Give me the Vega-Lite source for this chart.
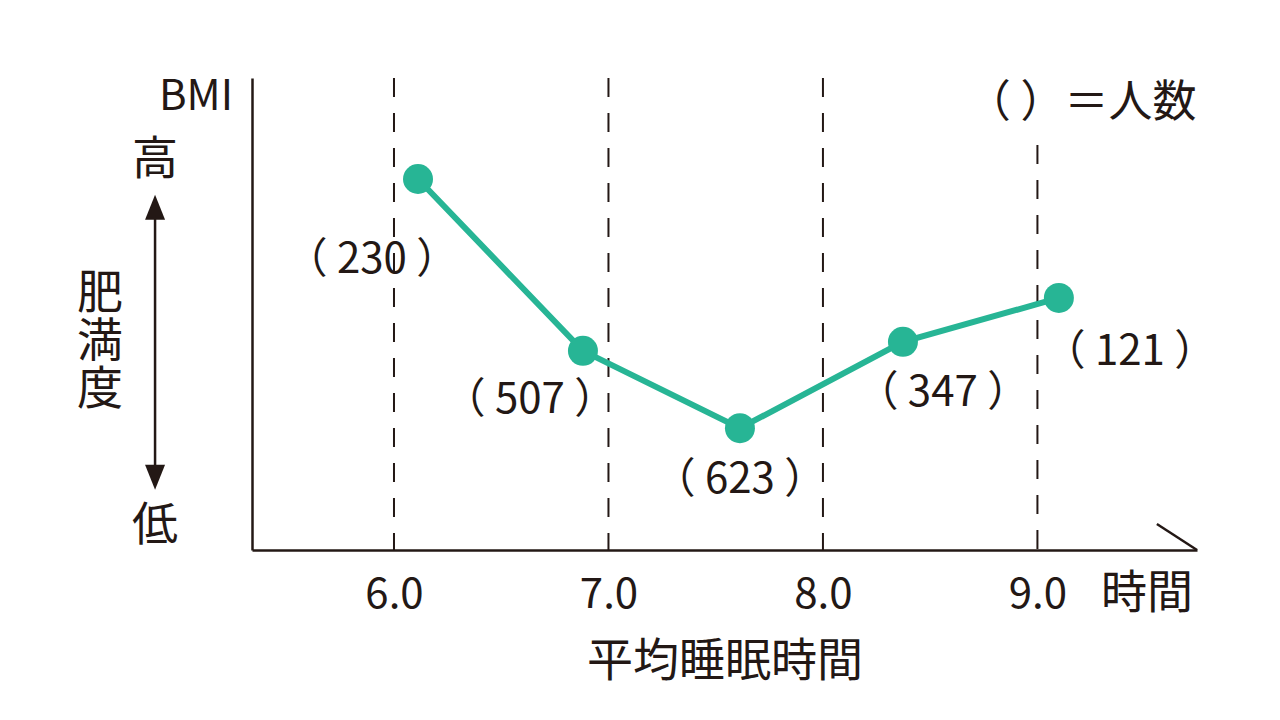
{
  "$schema": "https://vega.github.io/schema/vega-lite/v6.json",
  "width": 945,
  "height": 472,
  "autosize": {"type": "none"},
  "padding": {"left": 252, "top": 78, "right": 83, "bottom": 170},
  "background": "white",
  "config": {
    "font": "Noto Sans CJK JP",
    "view": {"stroke": null},
    "text": {"font": "Noto Sans CJK JP", "color": "#231815"}
  },
  "datasets": {
    "points": [
      {"hours": 6.112, "level": 78.6, "count": 230},
      {"hours": 6.881, "level": 42.2, "count": 507},
      {"hours": 7.613, "level": 25.8, "count": 623},
      {"hours": 8.373, "level": 44.1, "count": 347},
      {"hours": 9.1, "level": 53.4, "count": 121}
    ],
    "labels": [
      {"hours": 5.897, "level": 61.4, "text": "（ 230 ）"},
      {"hours": 6.634, "level": 31.8, "text": "（ 507 ）"},
      {"hours": 7.613, "level": 14.8, "text": "（ 623 ）"},
      {"hours": 8.559, "level": 33.3, "text": "（ 347 ）"},
      {"hours": 9.431, "level": 41.9, "text": "（ 121 ）"}
    ],
    "guides": [
      {"hours": 6, "top": 100},
      {"hours": 7, "top": 100},
      {"hours": 8, "top": 100},
      {"hours": 9, "top": 85.8}
    ],
    "notes": [
      {"hours": 4.886, "level": 82.6, "text": "高"},
      {"hours": 4.886, "level": 5.1, "text": "低"},
      {"hours": 9.511, "level": -9.3, "text": "時間"}
    ],
    "arrowheads": [
      {"hours": 4.886, "level": 72.6, "dir": "up"},
      {"hours": 4.886, "level": 15.4, "dir": "down"}
    ]
  },
  "layer": [
    {
      "data": {"name": "guides"},
      "mark": {"type": "rule", "color": "#231815", "strokeWidth": 2, "strokeDash": [19, 16]},
      "encoding": {
        "x": {
          "field": "hours",
          "type": "quantitative",
          "scale": {"domain": [5.338, 9.744], "nice": false, "zero": false},
          "axis": {
            "values": [6, 7, 8, 9],
            "format": ".1f",
            "domainColor": "#231815",
            "domainWidth": 2.5,
            "ticks": false,
            "grid": false,
            "labelFontSize": 42,
            "labelColor": "#231815",
            "labelPadding": 24,
            "labelFlush": false,
            "labelDx": 6,
            "title": "平均睡眠時間",
            "titleFontSize": 46,
            "titleFontWeight": "normal",
            "titleColor": "#231815",
            "titlePadding": 24
          }
        },
        "y": {
          "field": "top",
          "type": "quantitative",
          "scale": {"domain": [0, 100], "nice": false, "zero": false},
          "axis": {
            "domainColor": "#231815",
            "domainWidth": 2.5,
            "ticks": false,
            "labels": false,
            "grid": false,
            "title": null
          }
        },
        "y2": {"datum": 0}
      }
    },
    {
      "data": {"name": "points"},
      "mark": {"type": "line", "color": "#27b595", "strokeWidth": 6},
      "encoding": {
        "x": {"field": "hours", "type": "quantitative"},
        "y": {"field": "level", "type": "quantitative"}
      }
    },
    {
      "data": {"name": "points"},
      "mark": {"type": "circle", "color": "#27b595", "size": 900, "opacity": 1},
      "encoding": {
        "x": {"field": "hours", "type": "quantitative"},
        "y": {"field": "level", "type": "quantitative"}
      }
    },
    {
      "data": {"name": "labels"},
      "mark": {"type": "text", "fontSize": 42, "baseline": "middle", "align": "center"},
      "encoding": {
        "x": {"field": "hours", "type": "quantitative"},
        "y": {"field": "level", "type": "quantitative"},
        "text": {"field": "text"}
      }
    },
    {
      "data": {"name": "notes"},
      "mark": {"type": "text", "fontSize": 46, "baseline": "middle", "align": "center"},
      "encoding": {
        "x": {"field": "hours", "type": "quantitative"},
        "y": {"field": "level", "type": "quantitative"},
        "text": {"field": "text"}
      }
    },
    {
      "data": {"values": [{"hours": 9.742, "level": 94.5, "text": "（  ）＝人数"}]},
      "mark": {"type": "text", "fontSize": 44, "baseline": "middle", "align": "right"},
      "encoding": {
        "x": {"field": "hours", "type": "quantitative"},
        "y": {"field": "level", "type": "quantitative"},
        "text": {"field": "text"}
      }
    },
    {
      "data": {"values": [{"hours": 5.077, "level": 96.0, "text": "BMI"}]},
      "mark": {"type": "text", "fontSize": 42, "baseline": "middle", "align": "center"},
      "encoding": {
        "x": {"field": "hours", "type": "quantitative"},
        "y": {"field": "level", "type": "quantitative"},
        "text": {"field": "text"}
      }
    },
    {
      "data": {"values": [{"hours": 4.629, "level": 54.2, "text": "肥\n満\n度"}]},
      "mark": {"type": "text", "fontSize": 46, "lineHeight": 48, "lineBreak": "\n", "baseline": "middle", "align": "center"},
      "encoding": {
        "x": {"field": "hours", "type": "quantitative"},
        "y": {"field": "level", "type": "quantitative"},
        "text": {"field": "text"}
      }
    },
    {
      "data": {"values": [{"hours": 4.886, "from": 72.0, "to": 16.0}]},
      "mark": {"type": "rule", "color": "#231815", "strokeWidth": 2.5},
      "encoding": {
        "x": {"field": "hours", "type": "quantitative"},
        "y": {"field": "from", "type": "quantitative"},
        "y2": {"field": "to"}
      }
    },
    {
      "data": {"name": "arrowheads"},
      "mark": {"type": "point", "filled": true, "color": "#231815", "size": 625, "opacity": 1},
      "encoding": {
        "x": {"field": "hours", "type": "quantitative"},
        "y": {"field": "level", "type": "quantitative"},
        "shape": {
          "field": "dir",
          "type": "nominal",
          "scale": {"domain": ["up", "down"], "range": ["M0,-1L0.8,1L-0.8,1Z", "M0,1L0.8,-1L-0.8,-1Z"]},
          "legend": null
        }
      }
    },
    {
      "data": {"values": [{"x1": 9.557, "y1": 5.5, "x2": 9.744, "y2": 0}]},
      "mark": {"type": "rule", "color": "#231815", "strokeWidth": 2.5},
      "encoding": {
        "x": {"field": "x1", "type": "quantitative"},
        "y": {"field": "y1", "type": "quantitative"},
        "x2": {"field": "x2"},
        "y2": {"field": "y2"}
      }
    }
  ]
}
